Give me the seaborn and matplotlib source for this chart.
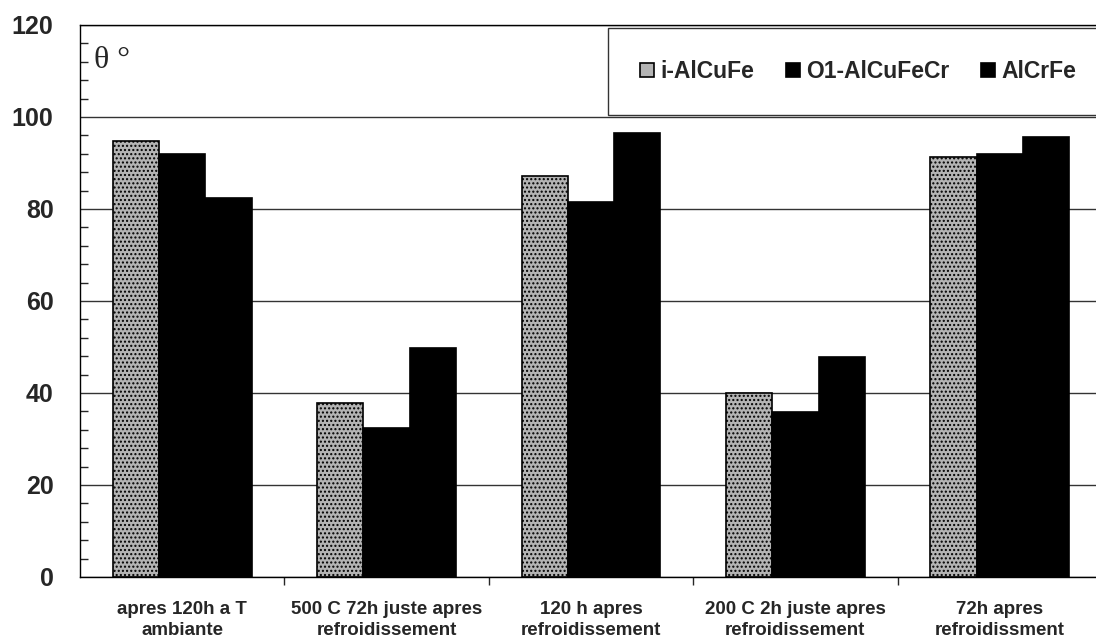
import numpy as np
import pandas as pd
import matplotlib
matplotlib.use("Agg")
import matplotlib.pyplot as plt
import seaborn as sns
from matplotlib.ticker import MultipleLocator, FixedLocator

# data
conditions = ["apres 120h a T\nambiante",
              "500 C 72h juste apres\nrefroidissement",
              "120 h apres\nrefroidissement",
              "200 C 2h juste apres\nrefroidissement",
              "72h apres\nrefroidissment"]
alloys = ["i-AlCuFe", "O1-AlCuFeCr", "AlCrFe"]
i_alcufe = [94.8, 37.9, 87.2, 39.9, 91.2]
o1_alcufecr = [92.0, 32.5, 81.6, 35.9, 92.0]
alcrfe = [82.5, 49.7, 96.6, 47.8, 95.6]

df = pd.DataFrame({
    "cond": conditions * 3,
    "alloy": np.repeat(alloys, len(conditions)),
    "theta": i_alcufe + o1_alcufecr + alcrfe,
})

sns.set_style("white")
plt.rcParams["font.family"] = ["Liberation Sans", "DejaVu Sans"]
plt.rcParams["font.weight"] = "bold"

fig = plt.figure(figsize=(10.96, 6.41), dpi=100)
ax = fig.add_axes([80/1096, 1-577/641, 1022/1096, (577-25)/641])

palette = {"i-AlCuFe": "#b4b4b4", "O1-AlCuFeCr": "#000000", "AlCrFe": "#000000"}
sns.barplot(data=df, x="cond", y="theta", hue="alloy", palette=palette,
            width=0.68, edgecolor="black", linewidth=1.2, saturation=1,
            ax=ax, legend=True)

# stippled texture for the first series
for bar in ax.containers[0]:
    bar.set_hatch("....")

ax.set_ylim(0, 120)
ax.set_xlim(-0.5, 4.5)
ax.set_xlabel("")
ax.set_ylabel("")
ax.yaxis.set_major_locator(MultipleLocator(20))
ax.yaxis.set_minor_locator(MultipleLocator(4))
ax.tick_params(axis="y", which="major", direction="out", length=8, width=1,
               labelsize=18, pad=11)
ax.tick_params(axis="y", which="minor", direction="in", length=6, width=1, left=True)
ax.xaxis.set_minor_locator(FixedLocator([0.5, 1.5, 2.5, 3.5]))
ax.tick_params(axis="x", which="major", length=0, labelsize=13.5, pad=17)
ax.tick_params(axis="x", which="minor", direction="out", length=6, width=1, bottom=True)
for lab in ax.get_xticklabels() + ax.get_yticklabels():
    lab.set_fontweight("bold")
for lab in ax.get_xticklabels():
    lab.set_linespacing(1.35)

ax.grid(axis="y", which="major", color="#333333", linewidth=1)
ax.set_axisbelow(True)
ax.spines["right"].set_visible(False)
for s in ["left", "bottom", "top"]:
    ax.spines[s].set_color("black")
    ax.spines[s].set_linewidth(1)

ax.text(0.014, 0.935, "θ °", transform=ax.transAxes, fontsize=23,
        family=["Liberation Serif", "DejaVu Serif"], fontweight="normal",
        va="center", ha="left")

handles, labels = ax.get_legend_handles_labels()
leg = ax.legend(handles, labels, loc="upper left", ncol=3, mode="expand",
                bbox_to_anchor=(528/1022, 0.75, 0.49, 0.2446),
                frameon=True, fancybox=False,
                edgecolor="black", prop={"weight": "bold", "size": 16.5},
                handlelength=0.6, handleheight=0.6, handletextpad=0.3,
                columnspacing=1.2, borderpad=1.4, borderaxespad=0)
leg.get_frame().set_linewidth(1)

fig.savefig("out.png", dpi=100)
